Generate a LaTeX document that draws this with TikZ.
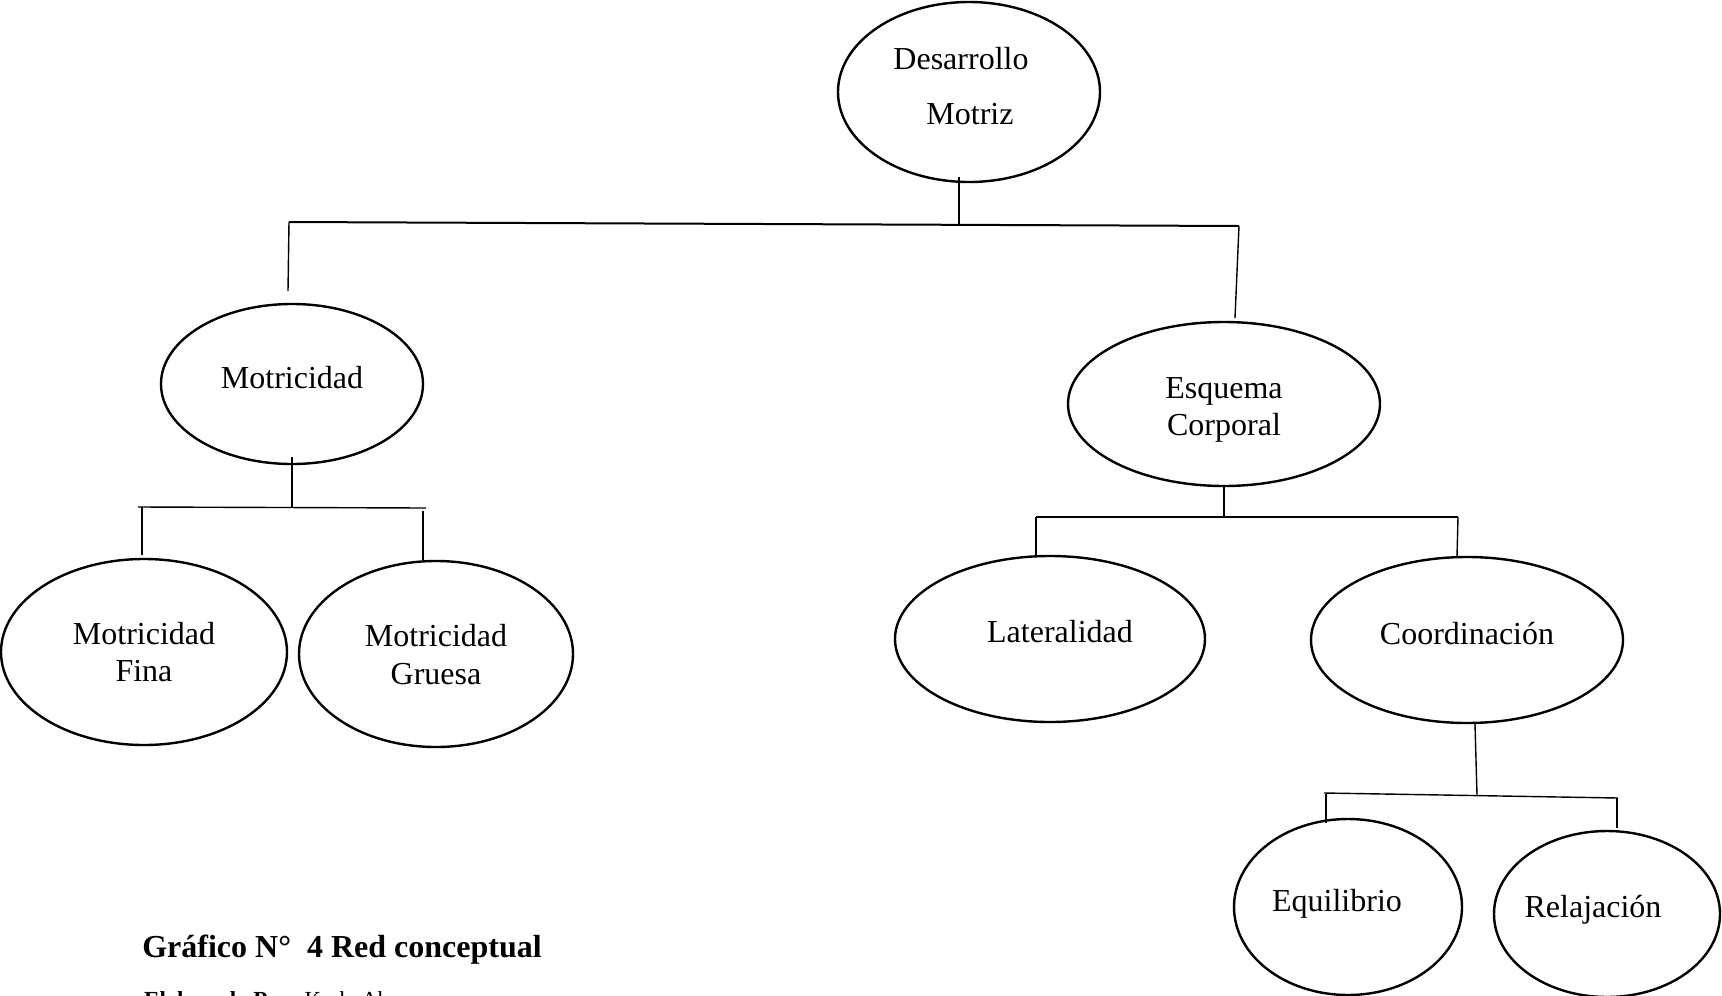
\documentclass[tikz,border=0pt]{standalone}
\usepackage{fontspec}
\setmainfont{Liberation Serif}
\usetikzlibrary{shapes.geometric}
\begin{document}
\begin{tikzpicture}[x=1pt,y=-1pt,
  ell/.style={draw,ellipse,line width=2.4pt,inner sep=0pt},
  conn/.style={line width=1.4pt},
  txt/.style={font=\fontsize{32}{38}\selectfont,inner sep=0pt}]
\clip (0,0) rectangle (1722,996);
\useasboundingbox (0,0) rectangle (1722,996);
% ellipses
\node[ell,minimum width=262pt,minimum height=180pt] (dm) at (969,92) {};
\node[ell,minimum width=262pt,minimum height=160pt] (mot) at (292,384) {};
\node[ell,minimum width=286pt,minimum height=186pt] (mf) at (144,652) {};
\node[ell,minimum width=274pt,minimum height=186pt] (mg) at (436,654) {};
\node[ell,minimum width=312pt,minimum height=164pt] (ec) at (1224,404) {};
\node[ell,minimum width=310pt,minimum height=166pt] (lat) at (1050,639) {};
\node[ell,minimum width=312pt,minimum height=166pt] (coo) at (1467,640) {};
\node[ell,minimum width=228pt,minimum height=176pt] (equ) at (1348,907) {};
\node[ell,minimum width=226pt,minimum height=166pt] (rel) at (1607,914) {};
% texts
\node[txt] (t1) at (961,59) {Desarrollo};
\node[txt] (t2) at (970,114) {Motriz};
\node[txt] (t3) at (292,378) {Motricidad};
\node[txt] (t4) at (144,634) {Motricidad};
\node[txt] (t5) at (144,671) {Fina};
\node[txt] (t6) at (436,636) {Motricidad};
\node[txt] (t7) at (436,674) {Gruesa};
\node[txt] (t8) at (1224,391) {Esquema};
\node[txt] (t9) at (1224,428) {Corporal};
\node[txt] (t10) at (1060,632) {Lateralidad};
\node[txt] (t11) at (1467,634) {Coordinación};
\node[txt] (t12) at (1337,904) {Equilibrio};
\node[txt] (t13) at (1593,910) {Relajación};
\node[txt,font=\fontsize{32}{38}\selectfont\bfseries] (title) at (342,950) {Gráfico N°\ \ 4 Red conceptual};
\node[inner sep=0pt,anchor=base west,font=\fontsize{23}{28}\selectfont] (elab) at (144,1007) {\textbf{Elaborado Por:} Karla Abarca};
% junction coordinates
\coordinate (a0) at (959,224);
\coordinate (aL) at (289,222);
\coordinate (aR) at (1239,226);
\coordinate (aLb) at (288,291);
\coordinate (aRb) at (1235,318);
\coordinate (b0) at (292,507);
\coordinate (bL) at (138,507);
\coordinate (bR) at (426,508);
\coordinate (bLb) at (142,555);
\coordinate (bRb) at (423,560);
\coordinate (c0) at (1224,517);
\coordinate (cL) at (1036,517);
\coordinate (cR) at (1458,517);
\coordinate (cLb) at (1036,557);
\coordinate (cRb) at (1457,557);
\coordinate (d0) at (1477,795);
\coordinate (dL) at (1324,793);
\coordinate (dR) at (1618,798);
\coordinate (dLb) at (1326,823);
\coordinate (dRb) at (1617,828);
% connectors
\draw[conn] (a0 |- dm.south) ++(0,-6) -- (a0);
\draw[conn,line width=2pt] (aL) -- (aR);
\draw[conn] (aL) -- (aLb);
\draw[conn] (aR) -- (aRb);
\draw[conn] (mot.south) ++(0,-8) -- (b0);
\draw[conn] (bL) -- (bR);
\draw[conn] (bL) ++(4,0) -- (bLb);
\draw[conn] (bR) ++(-3,3) -- (bRb);
\draw[conn] (ec.south) -- (c0);
\draw[conn] (cL) -- (cR);
\draw[conn] (cL) -- (cLb);
\draw[conn] (cR) -- (cRb);
\draw[conn] (coo.south) ++(8,0) -- (d0);
\draw[conn] (dL) -- (dR);
\draw[conn] (dL) ++(2,1) -- (dLb);
\draw[conn] (dR) ++(-1,0) -- (dRb);
\end{tikzpicture}
\end{document}
